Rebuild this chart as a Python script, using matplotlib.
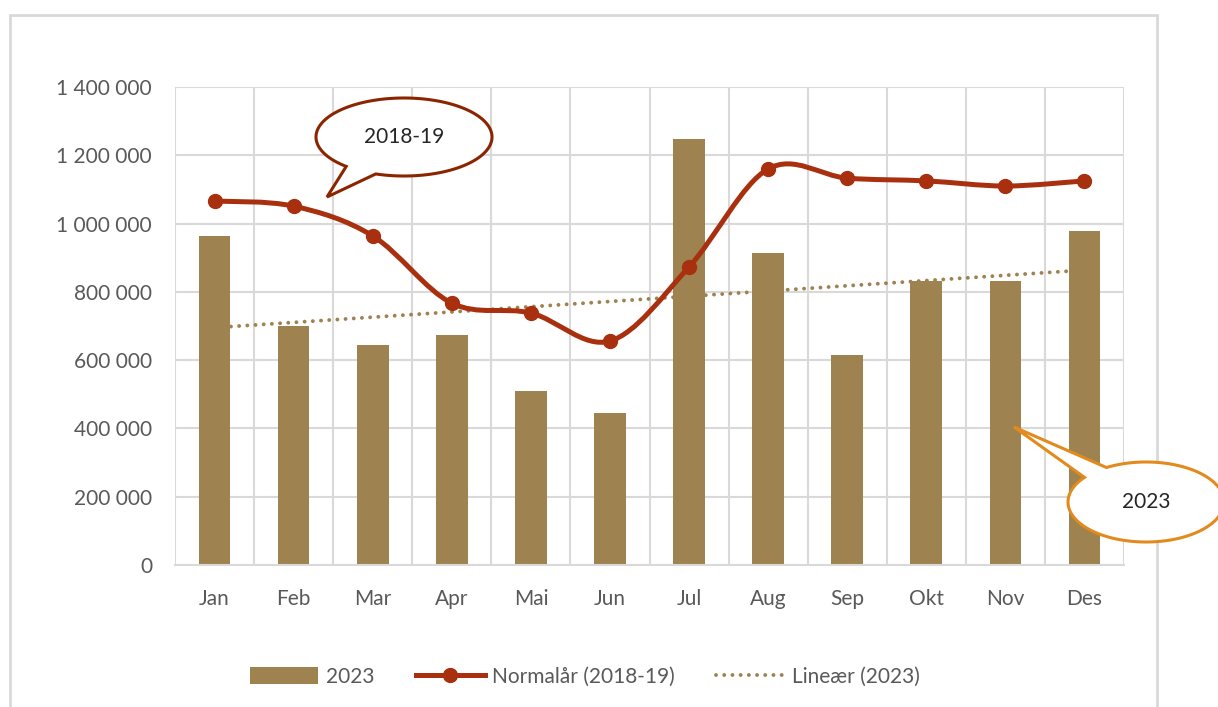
import numpy as np
import matplotlib
matplotlib.use("Agg")
import matplotlib.pyplot as plt
from matplotlib.path import Path
from matplotlib.patches import PathPatch, Rectangle
from matplotlib.lines import Line2D
from matplotlib.patches import Patch

months = ["Jan", "Feb", "Mar", "Apr", "Mai", "Jun", "Jul", "Aug", "Sep", "Okt", "Nov", "Des"]
bars_2023 = [963000, 700000, 644000, 674000, 510000, 445000, 1248000, 914000, 615000, 831000, 832000, 978000]
normal_1819 = [1066000, 1051000, 964000, 767000, 738000, 656000, 873000, 1160000, 1133000, 1125000, 1110000, 1125000]
yticks = [0, 200000, 400000, 600000, 800000, 1000000, 1200000, 1400000]
ytick_labels = ["0", "200 000", "400 000", "600 000", "800 000", "1 000 000", "1 200 000", "1 400 000"]

BAR = "#9E8250"
LINE = "#A8300F"
TXT = "#595959"
GRID = "#D9D9D9"
FONT = ["Lato", "DejaVu Sans"]
FS = 15
DOTS = (0, (0.01, 2.1))

plt.rcParams["font.family"] = FONT

W, H = 1218, 707
fig = plt.figure(figsize=(W / 100, H / 100), dpi=100)
ax = fig.add_axes([175 / W, 1 - 565 / H, (1124 - 175) / W, (565 - 87) / H])

x = np.arange(len(months))
ax.bar(x, bars_2023, width=0.4, color=BAR, zorder=2)

# trendline (linear fit of the 2023 bars)
k, m = np.polyfit(x, bars_2023, 1)
ax.plot([x[0], x[-1]], [k * x[0] + m, k * x[-1] + m], ls=DOTS, color=BAR, lw=2.8,
        dash_capstyle="round", zorder=3)

# smoothed line (Bezier, Catmull-Rom style control points)
ys = np.array(normal_1819, dtype=float)
pts = np.column_stack([x, ys])
verts = [tuple(pts[0])]
codes = [Path.MOVETO]
n = len(pts)
for i in range(n - 1):
    p0 = pts[max(i - 1, 0)]
    p1 = pts[i]
    p2 = pts[i + 1]
    p3 = pts[min(i + 2, n - 1)]
    c1 = p1 + (p2 - p0) / 6.0
    c2 = p2 - (p3 - p1) / 6.0
    verts += [tuple(c1), tuple(c2), tuple(p2)]
    codes += [Path.CURVE4] * 3
ax.add_patch(PathPatch(Path(verts, codes), fill=False, edgecolor=LINE, lw=3.6, zorder=4, capstyle="round"))
ax.plot(x, ys, ls="none", marker="o", ms=10, color=LINE, zorder=5)

ax.set_xlim(-0.5, len(months) - 0.5)
ax.set_ylim(0, 1400000)
ax.set_yticks(yticks)
ax.set_yticklabels(ytick_labels)
ax.set_xticks(x)
ax.set_xticklabels(months)
ax.set_xticks(np.arange(-0.5, len(months), 1), minor=True)
ax.tick_params(axis="both", which="both", length=0, labelsize=FS, labelcolor=TXT)
ax.tick_params(axis="y", pad=16.5)
ax.tick_params(axis="x", pad=17)
ax.grid(axis="y", which="major", color=GRID, lw=1.5, zorder=0)
ax.grid(axis="x", which="minor", color=GRID, lw=1.5, zorder=0)
ax.grid(axis="x", which="major", visible=False)
for s in ["top", "right", "left"]:
    ax.spines[s].set_visible(False)
ax.spines["bottom"].set_color(GRID)
ax.spines["bottom"].set_linewidth(1.5)
ax.set_axisbelow(True)

# outer chart border
fig.add_artist(Rectangle((10 / W, 1 - 1000 / H), (1157 - 10) / W, (1000 - 15) / H,
                         transform=fig.transFigure, fill=False, edgecolor=GRID, lw=2))


def callout(cx, cy, a, b, base1, base2, tip, color, text):
    # pixel coords (top-left origin): ellipse outline with a gap replaced by a pointed tail
    a1 = np.arctan2((base1[1] - cy) / b, (base1[0] - cx) / a)
    a2 = np.arctan2((base2[1] - cy) / b, (base2[0] - cx) / a)
    d = (a2 - a1) % (2 * np.pi)
    if d > np.pi:
        a1, a2 = a2, a1
        d = (a2 - a1) % (2 * np.pi)
    start = a1 + d
    t = np.linspace(start, a1 + 2 * np.pi, 240)
    px = list(cx + a * np.cos(t)) + [tip[0]]
    py = list(cy + b * np.sin(t)) + [tip[1]]
    v = [(xx / W, 1 - yy / H) for xx, yy in zip(px, py)]
    v.append(v[0])
    c = [Path.MOVETO] + [Path.LINETO] * (len(v) - 2) + [Path.CLOSEPOLY]
    fig.add_artist(PathPatch(Path(v, c), transform=fig.transFigure, facecolor="white",
                             edgecolor=color, lw=2.2, zorder=10, joinstyle="miter"))
    fig.text(cx / W, 1 - cy / H, text, ha="center", va="center", fontsize=FS,
             color="#262626", zorder=11)


callout(404, 137, 88, 39, (349, 165), (378, 171), (327, 197), "#8B2500", "2018-19")
callout(1146, 502, 78, 40, (1107, 468), (1086, 478), (1014, 427), "#E38A1E", "2023")

handles = [Patch(facecolor=BAR, edgecolor="none"),
           Line2D([0], [0], color=LINE, lw=3.6, marker="o", ms=10),
           Line2D([0], [0], color=BAR, lw=2.8, ls=DOTS, dash_capstyle="round")]
labels = ["2023", "Normalår (2018-19)", "Lineær (2023)"]
fig.legend(handles, labels, loc="center", bbox_to_anchor=(585 / W, 1 - 677 / H), ncol=3,
           frameon=False, fontsize=FS, labelcolor=TXT, handlelength=3.3, handleheight=0.85,
           columnspacing=2.0, handletextpad=0.35)

fig.savefig("out.png", dpi=100)
